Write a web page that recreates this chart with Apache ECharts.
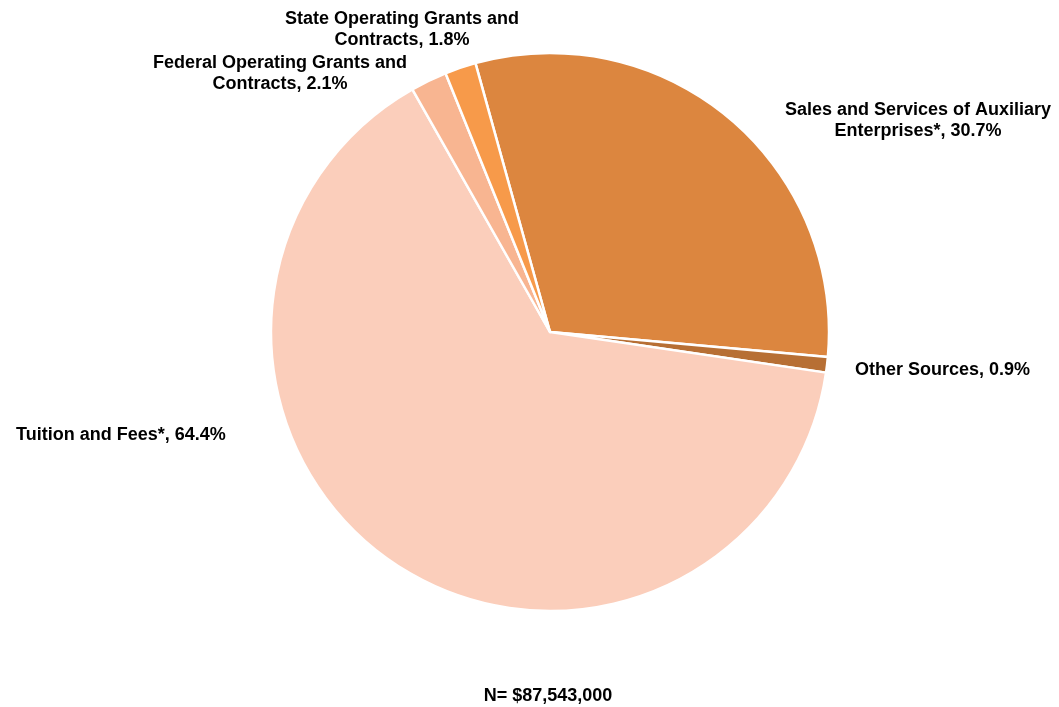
<!DOCTYPE html>
<html>
<head>
<meta charset="utf-8">
<style>
  html, body { margin: 0; padding: 0; background: #ffffff; }
  #chart { width: 1059px; height: 707px; }
</style>
<script src="https://cdn.jsdelivr.net/npm/echarts@6/dist/echarts.min.js"></script>
</head>
<body>
<div id="chart"></div>
<script>
// Revenue sources, clockwise from the top of the pie
const categories = [
  'Sales and Services of Auxiliary\nEnterprises*',
  'Other Sources',
  'Tuition and Fees*',
  'Federal Operating Grants and\nContracts',
  'State Operating Grants and\nContracts'
];
const shares = [30.7, 0.9, 64.4, 2.1, 1.8];
const sliceColors = ['#DC863F', '#B76F34', '#FBCEBB', '#F8B591', '#F79A4A'];
const totalLabel = 'N= $87,543,000';

// label anchor points (centre of each text block) and alignment
const labelSpots = [
  { x: 918, y: 121, align: 'center' },
  { x: 855, y: 370, align: 'left' },
  { x: 16,  y: 435, align: 'left' },
  { x: 280, y: 74,  align: 'center' },
  { x: 402, y: 30,  align: 'center' }
];

const textFont = {
  fontFamily: 'Liberation Sans, Arial, sans-serif',
  fontWeight: 'bold',
  fontSize: 18,
  lineHeight: 21,
  color: '#000000'
};

const chart = echarts.init(document.getElementById('chart'));
chart.setOption({
  animation: false,
  backgroundColor: '#ffffff',
  title: {
    text: totalLabel,
    left: 543,
    top: 681,
    textAlign: 'center',
    textStyle: textFont
  },
  series: [{
    type: 'pie',
    center: [550, 332],
    radius: 279,
    startAngle: 105.5,
    clockwise: true,
    avoidLabelOverlap: false,
    itemStyle: { borderColor: '#ffffff', borderWidth: 2.5 },
    label: Object.assign({
      show: true,
      position: 'outside',
      formatter: p => p.name + ', ' + p.value.toFixed(1) + '%'
    }, textFont),
    labelLine: { show: false },
    labelLayout: params => {
      const s = labelSpots[params.dataIndex];
      return { x: s.x, y: s.y, align: s.align, verticalAlign: 'middle' };
    },
    emphasis: { disabled: true },
    data: categories.map((name, i) => ({
      name: name,
      value: shares[i],
      itemStyle: { color: sliceColors[i] }
    }))
  }]
});
</script>
</body>
</html>
